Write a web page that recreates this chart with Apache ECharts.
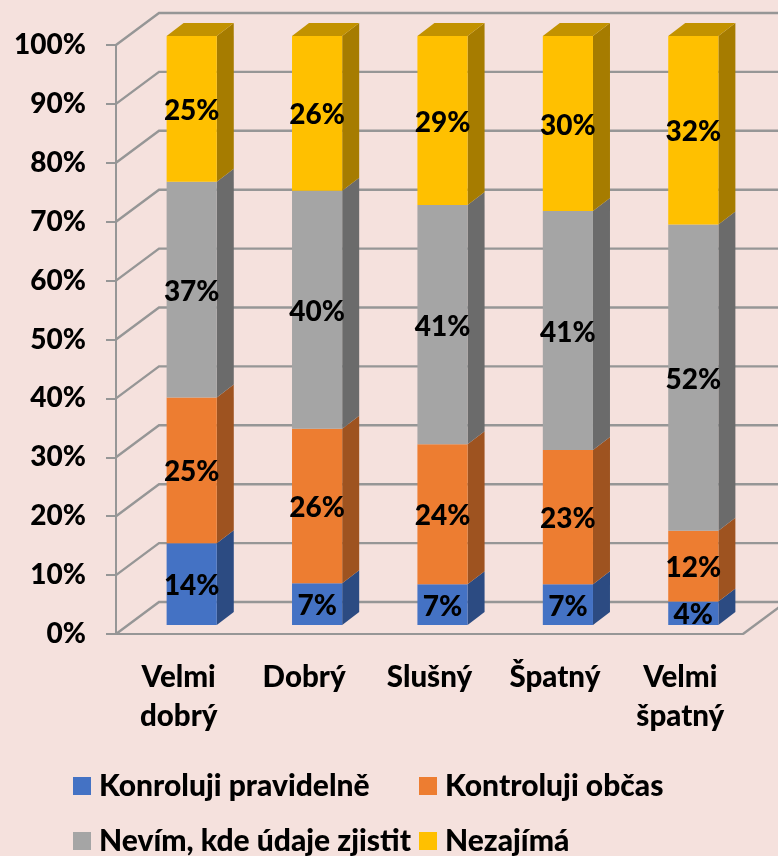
<!DOCTYPE html>
<html>
<head>
<meta charset="utf-8">
<style>html,body{margin:0;padding:0;background:#f5e1dd}#app{width:778px;height:856px}</style>
<script src="https://cdn.jsdelivr.net/npm/echarts@6/dist/echarts.min.js"></script>
</head>
<body>
<div id="app"></div>
<script>
const categories = ['Velmi\ndobrý', 'Dobrý', 'Slušný', 'Špatný', 'Velmi\nšpatný'];
const pravidelne = [14, 7, 7, 7, 4];
const obcas = [25, 26, 24, 23, 12];
const nevim = [37, 40, 41, 41, 52];
const nezajima = [25, 26, 29, 30, 32];
const yTicks = [0, 10, 20, 30, 40, 50, 60, 70, 80, 90, 100];

const layers = [
	{ name: 'Konroluji pravidelně', values: pravidelne, front: '#4472c4', side: '#2c4b82', top: '#36599a' },
	{ name: 'Kontroluji občas', values: obcas, front: '#ed7d31', side: '#9e5320', top: '#bd6427' },
	{ name: 'Nevím, kde údaje zjistit', values: nevim, front: '#a5a5a5', side: '#6b6b6b', top: '#848484' },
	{ name: 'Nezajímá', values: nezajima, front: '#ffc000', side: '#a67c00', top: '#c29200' }
];

const FONT = 'Lato';
const WEIGHT = 900;
const LINE = '#969696';
// depth of the fake 3D box, in pixels
const WALL_DX = 43, WALL_DY = -32;
const BAR_SHIFT_X = 13, BAR_SHIFT_Y = -9;
const BAR_DX = 17, BAR_DY = -13;
const BAR_RATIO = 0.4;

// the chart is 100% stacked, so the labels get normalized per category
function stackRows(index) {
	return categories.map(function (c, i) {
		let total = 0, before = 0;
		layers.forEach(function (l, k) {
			total += l.values[i];
			if (k < index) before += l.values[i];
		});
		let val = layers[index].values[i];
		return [i, before / total * 100, (before + val) / total * 100, val];
	});
}

function poly(points, color) {
	return { type: 'polygon', shape: { points: points }, style: { fill: color } };
}

function renderBar(layer) {
	return function (params, api) {
		let band = api.size([1, 0])[0];
		let w = band * BAR_RATIO;
		let p0 = api.coord([api.value(0), api.value(1)]);
		let p1 = api.coord([api.value(0), api.value(2)]);
		let l = p0[0] - w / 2 + BAR_SHIFT_X, r = l + w;
		let b = p0[1] + BAR_SHIFT_Y, t = p1[1] + BAR_SHIFT_Y;
		let children = [
			poly([[r, b], [r + BAR_DX, b + BAR_DY], [r + BAR_DX, t + BAR_DY], [r, t]], layer.side)
		];
		if (api.value(2) > 99.99) {
			children.push(poly([[l, t], [r, t], [r + BAR_DX, t + BAR_DY], [l + BAR_DX, t + BAR_DY]], layer.top));
		}
		children.push(poly([[l, b], [r, b], [r, t], [l, t]], layer.front));
		children.push({
			type: 'text',
			style: {
				text: api.value(3) + '%',
				x: (l + r) / 2,
				y: (b + t) / 2 + 2,
				align: 'center',
				verticalAlign: 'middle',
				fill: '#000',
				font: WEIGHT + ' 28px ' + FONT
			}
		});
		return { type: 'group', children: children };
	};
}

function renderWall(params, api) {
	let cs = params.coordSys;
	let y = api.coord([0, api.value(1)])[1];
	let style = { stroke: LINE, lineWidth: 2.4, fill: 'none' };
	let right = cs.x + cs.width;
	let children = [{
		type: 'polyline',
		shape: { points: [[cs.x, y], [cs.x + WALL_DX, y + WALL_DY], [right + WALL_DX, y + WALL_DY]] },
		style: style
	}];
	// floor edge on the right
	if (api.value(1) === 0) {
		children.push({
			type: 'line',
			shape: { x1: right, y1: y, x2: right + WALL_DX, y2: y + WALL_DY },
			style: style
		});
	}
	return { type: 'group', children: children };
}

let series = [{
	type: 'custom',
	name: 'walls',
	silent: true,
	clip: false,
	renderItem: renderWall,
	data: yTicks.map(function (v) { return [0, v]; }),
	encode: { x: 0, y: 1 }
}];
layers.forEach(function (layer, k) {
	series.push({
		type: 'custom',
		name: layer.name,
		clip: false,
		itemStyle: { color: layer.front },
		renderItem: renderBar(layer),
		data: stackRows(k),
		encode: { x: 0, y: [1, 2] }
	});
});

// one legend per item, the two rows would wrap otherwise
function legendItem(left, top, name) {
	return {
		left: left,
		top: top,
		itemWidth: 18,
		itemHeight: 18,
		icon: 'rect',
		selectedMode: false,
		padding: 0,
		data: [name],
		textStyle: { fontFamily: FONT, fontWeight: WEIGHT, fontSize: 30, lineHeight: 30, color: '#000', padding: [0, 0, 0, 3] }
	};
}

let chart = echarts.init(document.getElementById('app'));
chart.setOption({
	animation: false,
	backgroundColor: '#f5e1dd',
	textStyle: { fontFamily: FONT },
	grid: { left: 116, right: 35, top: 45, height: 589 },
	legend: [
		legendItem(73, 771, layers[0].name),
		legendItem(419, 771, layers[1].name),
		legendItem(73, 826, layers[2].name),
		legendItem(419, 826, layers[3].name)
	],
	xAxis: {
		type: 'category',
		data: categories,
		axisLine: { lineStyle: { color: LINE, width: 2 } },
		axisTick: { length: 10, lineStyle: { color: LINE, width: 2 } },
		axisLabel: { interval: 0, color: '#000', fontFamily: FONT, fontWeight: WEIGHT, fontSize: 29.5, lineHeight: 39, margin: 24 }
	},
	yAxis: {
		type: 'value',
		min: 0,
		max: 100,
		interval: 10,
		splitLine: { show: false },
		axisLine: { show: true, lineStyle: { color: LINE, width: 2 } },
		axisTick: { show: true, length: 10, lineStyle: { color: LINE, width: 2 } },
		axisLabel: { color: '#000', fontFamily: FONT, fontWeight: WEIGHT, fontSize: 28, margin: 30, padding: [5, 0, 0, 0], formatter: '{value}%' }
	},
	series: series
});
</script>
</body>
</html>
